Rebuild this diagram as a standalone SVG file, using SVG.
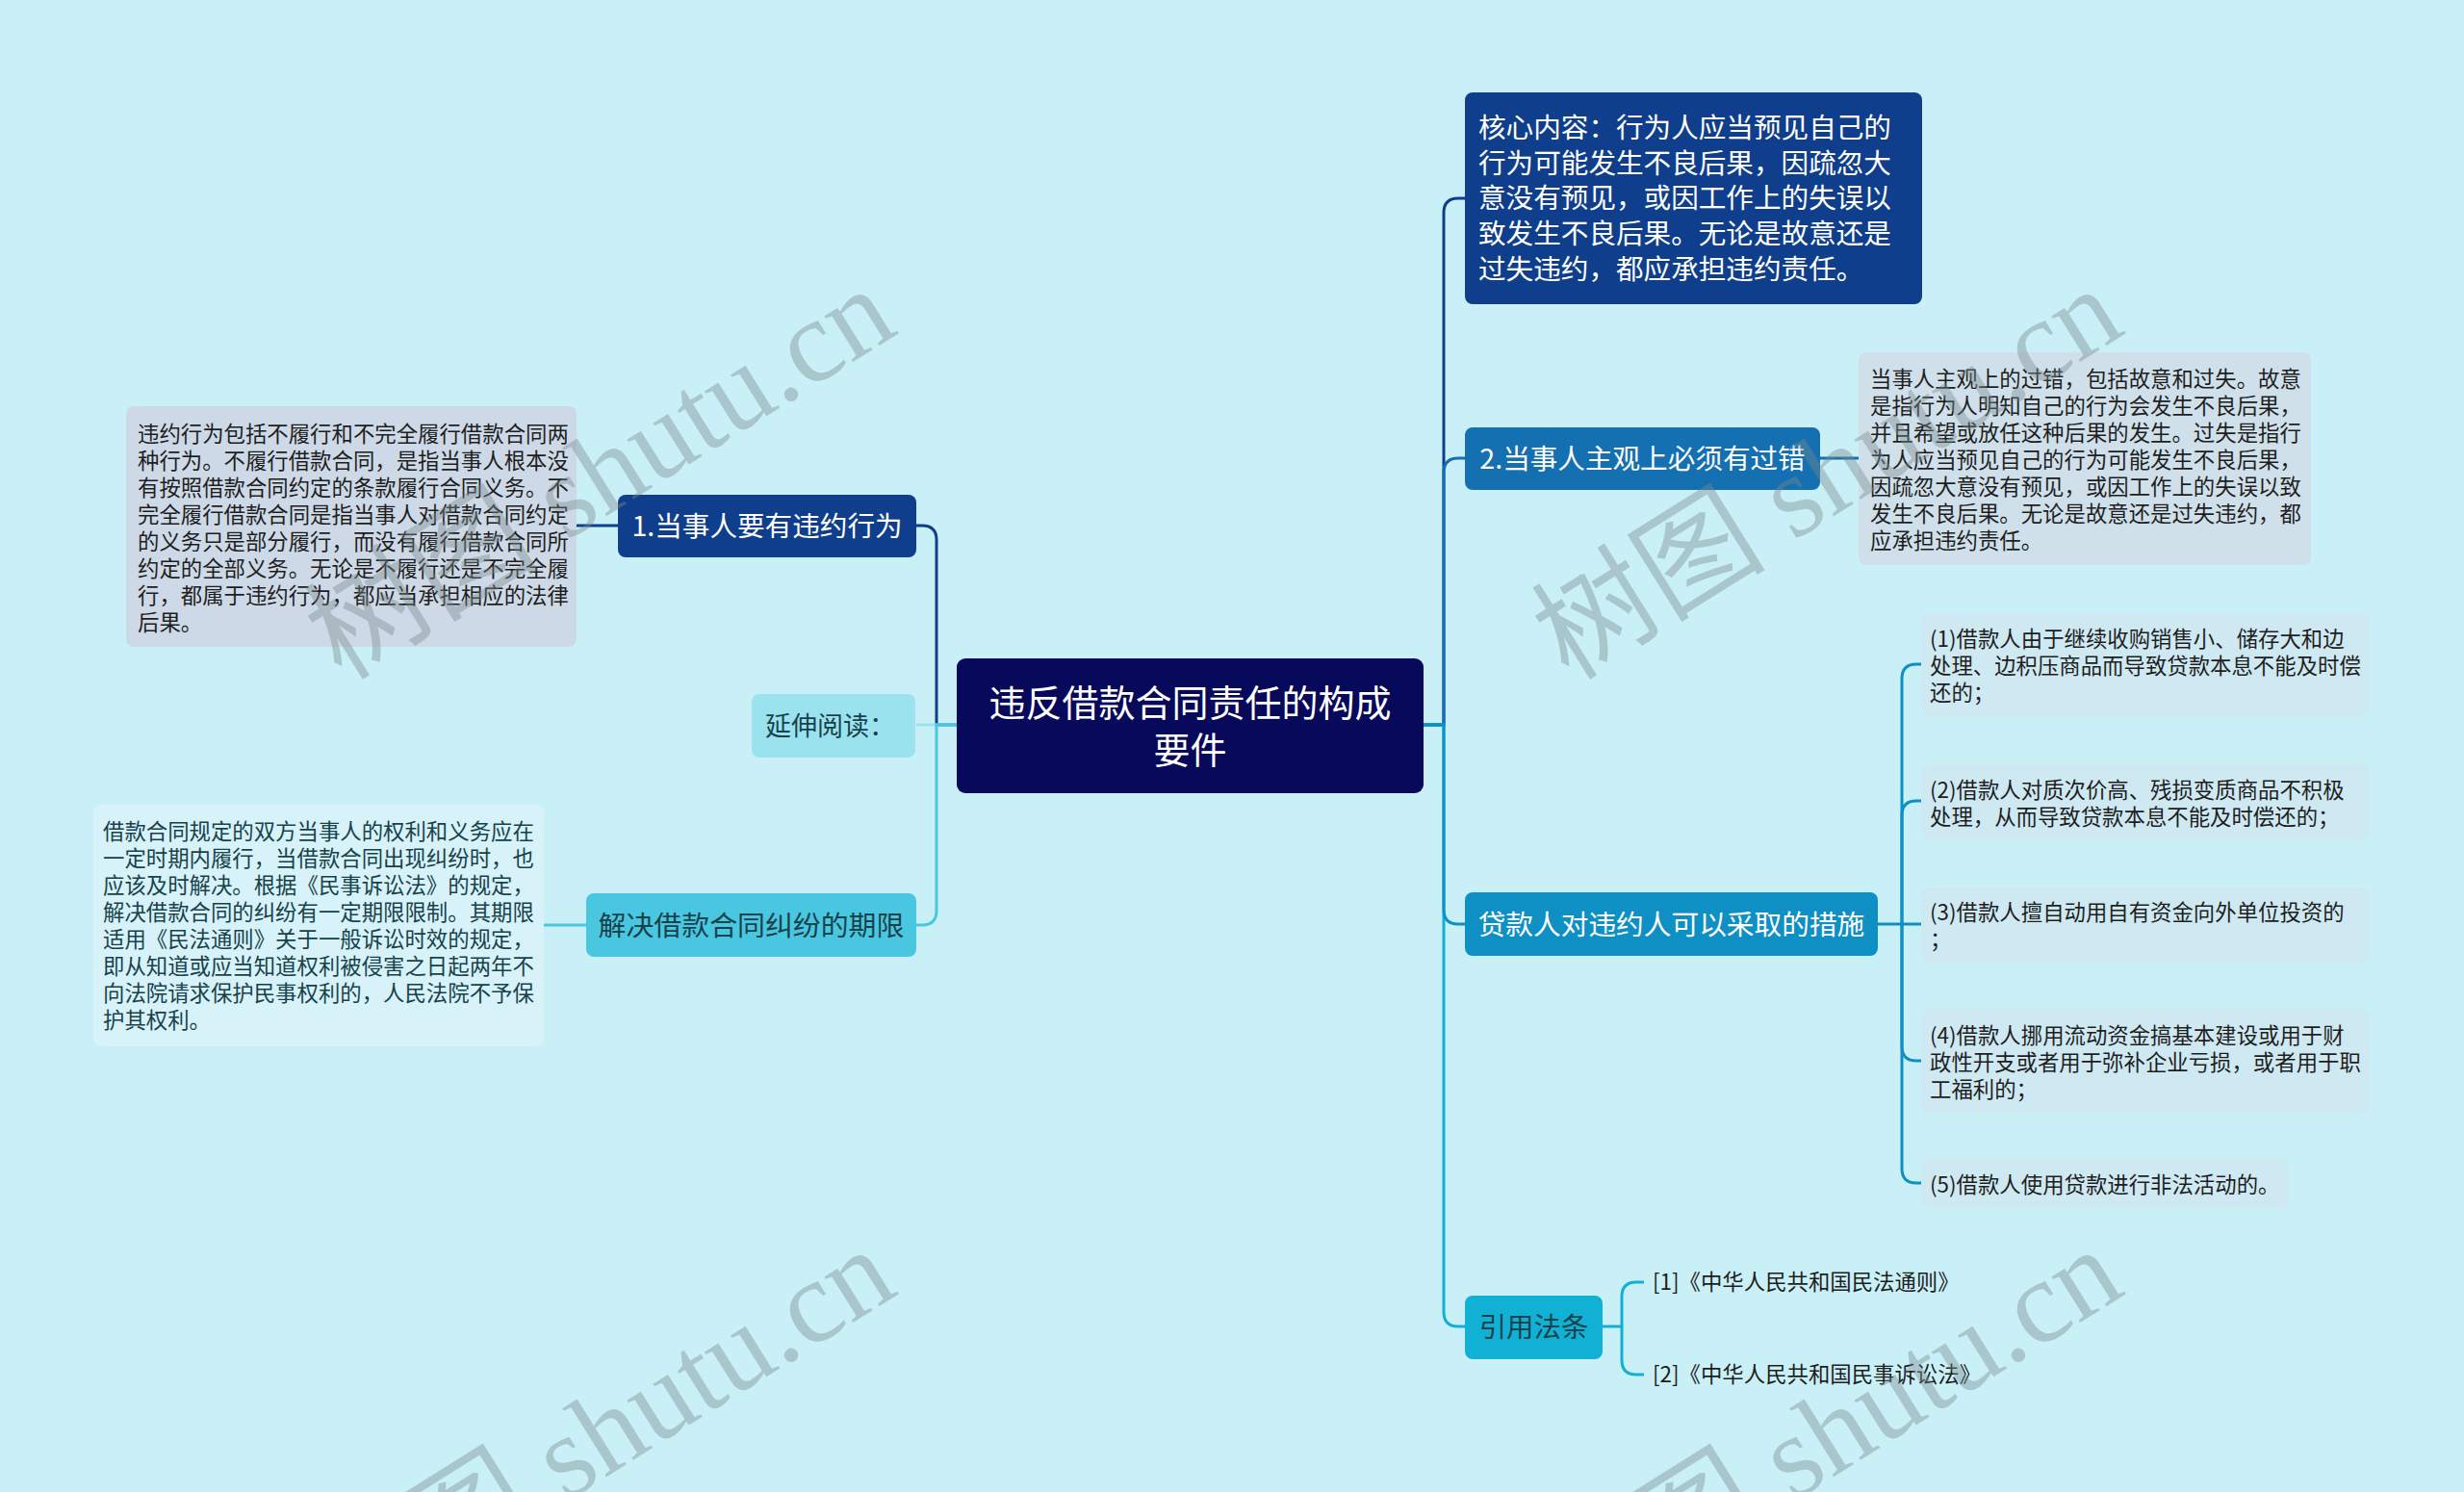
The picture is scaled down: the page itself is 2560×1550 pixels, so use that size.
<svg xmlns="http://www.w3.org/2000/svg" width="2560" height="1550" viewBox="0 0 2560 1550">
<style>
text{font-family:"Noto Sans CJK SC","Noto Sans",sans-serif;}
.w{fill:#ffffff}
.d{fill:#1e1e1e}
.t{fill:#16424c}
.m{font-size:28.6px}
.s{font-size:22.4px}
.c{stroke-width:3;fill:none}
.wm{font-family:"Liberation Serif","Noto Sans CJK SC",serif;font-size:122px;fill:#7a8a8e;opacity:0.4}
</style>
<rect x="0" y="0" width="2560" height="1550" fill="#c9f0f7"/>
<g id="connectors">
<path class="c" stroke="#0f3f8c" d="M994,753 H973 V561 Q973,546 958,546 H952"/>
<path class="c" stroke="#0f3f8c" d="M642,546 H599"/>
<path class="c" stroke="#9be2ef" d="M994,753 H952"/>
<path class="c" stroke="#4ac7e0" d="M994,753 H973 V946 Q973,961 958,961 H952"/>
<path class="c" stroke="#4ac7e0" d="M609,961 H565"/>
<path class="c" stroke="#0f3f8c" d="M1479,753 H1500 V221 Q1500,206 1515,206 H1522"/>
<path class="c" stroke="#1570b2" d="M1479,753 H1500 V491 Q1500,476 1515,476 H1522"/>
<path class="c" stroke="#1570b2" d="M1891,476 H1931"/>
<path class="c" stroke="#10b1d4" d="M1479,753 H1500 V1363 Q1500,1378 1515,1378 H1522"/>
<path class="c" stroke="#0f90c4" d="M1479,753 H1500 V945 Q1500,960 1515,960 H1522"/>
<path class="c" stroke="#0f90c4" d="M1951,960 H1976 V705 Q1976,690 1991,690 H1996"/>
<path class="c" stroke="#0f90c4" d="M1976,960 V847 Q1976,832 1991,832 H1996"/>
<path class="c" stroke="#0f90c4" d="M1976,960 H1996"/>
<path class="c" stroke="#0f90c4" d="M1976,960 V1087 Q1976,1102 1991,1102 H1996"/>
<path class="c" stroke="#0f90c4" d="M1976,960 V1214 Q1976,1229 1991,1229 H1996"/>
<path class="c" stroke="#10b1d4" d="M1665,1378 H1685 V1347 Q1685,1332 1700,1332 H1708"/>
<path class="c" stroke="#10b1d4" d="M1685,1378 V1413 Q1685,1428 1700,1428 H1708"/>
</g>
<g id="root">
<rect x="994" y="684" width="485" height="140" rx="9" fill="#07095a"/>
<text class="w" x="1236.5" y="744" font-size="38" text-anchor="middle">违反借款合同责任的构成</text>
<text class="w" x="1236.5" y="793" font-size="38" text-anchor="middle">要件</text>
</g>
<g id="n1">
<rect x="642" y="514" width="310" height="65" rx="8" fill="#0f3f8c"/>
<text class="w m" x="797" y="557" text-anchor="middle">1.当事人要有违约行为</text>
</g>
<g id="n1d">
<rect x="131" y="422" width="468" height="250" rx="8" fill="#cdd9e7"/>
<text class="d s" x="143">
<tspan x="143" y="458.5">违约行为包括不履行和不完全履行借款合同两</tspan>
<tspan x="143" y="486.6">种行为。不履行借款合同，是指当事人根本没</tspan>
<tspan x="143" y="514.7">有按照借款合同约定的条款履行合同义务。不</tspan>
<tspan x="143" y="542.8">完全履行借款合同是指当事人对借款合同约定</tspan>
<tspan x="143" y="570.9">的义务只是部分履行，而没有履行借款合同所</tspan>
<tspan x="143" y="599">约定的全部义务。无论是不履行还是不完全履</tspan>
<tspan x="143" y="627.1">行，都属于违约行为，都应当承担相应的法律</tspan>
<tspan x="143" y="655.2">后果。</tspan>
</text>
</g>
<g id="n2">
<rect x="781" y="721" width="170" height="66" rx="8" fill="#9be2ef"/>
<text class="t" x="795" y="764" font-size="27">延伸阅读：</text>
</g>
<g id="n3">
<rect x="609" y="928" width="343" height="66" rx="8" fill="#4ac7e0"/>
<text class="t" x="780.5" y="972" font-size="28.9" text-anchor="middle">解决借款合同纠纷的期限</text>
</g>
<g id="n3d">
<rect x="97" y="836" width="468" height="251" rx="8" fill="#d7f2f8"/>
<text class="t s">
<tspan x="107" y="871.5">借款合同规定的双方当事人的权利和义务应在</tspan>
<tspan x="107" y="899.6">一定时期内履行，当借款合同出现纠纷时，也</tspan>
<tspan x="107" y="927.7">应该及时解决。根据《民事诉讼法》的规定，</tspan>
<tspan x="107" y="955.8">解决借款合同的纠纷有一定期限限制。其期限</tspan>
<tspan x="107" y="983.9">适用《民法通则》关于一般诉讼时效的规定，</tspan>
<tspan x="107" y="1012">即从知道或应当知道权利被侵害之日起两年不</tspan>
<tspan x="107" y="1040.1">向法院请求保护民事权利的，人民法院不予保</tspan>
<tspan x="107" y="1068.2">护其权利。</tspan>
</text>
</g>
<g id="r1">
<rect x="1522" y="96" width="475" height="220" rx="8" fill="#0f3f8c"/>
<text class="w" font-size="28.6">
<tspan x="1536" y="143">核心内容：行为人应当预见自己的</tspan>
<tspan x="1536" y="179.7">行为可能发生不良后果，因疏忽大</tspan>
<tspan x="1536" y="216.4">意没有预见，或因工作上的失误以</tspan>
<tspan x="1536" y="253.1">致发生不良后果。无论是故意还是</tspan>
<tspan x="1536" y="289.8">过失违约，都应承担违约责任。</tspan>
</text>
</g>
<g id="r2">
<rect x="1522" y="444" width="369" height="65" rx="8" fill="#1570b2"/>
<text class="w m" x="1706.5" y="487" text-anchor="middle">2.当事人主观上必须有过错</text>
</g>
<g id="r2d">
<rect x="1931" y="366" width="470" height="221" rx="8" fill="#cfe0eb"/>
<text class="d s">
<tspan x="1943" y="401.5">当事人主观上的过错，包括故意和过失。故意</tspan>
<tspan x="1943" y="429.6">是指行为人明知自己的行为会发生不良后果，</tspan>
<tspan x="1943" y="457.7">并且希望或放任这种后果的发生。过失是指行</tspan>
<tspan x="1943" y="485.8">为人应当预见自己的行为可能发生不良后果，</tspan>
<tspan x="1943" y="513.9">因疏忽大意没有预见，或因工作上的失误以致</tspan>
<tspan x="1943" y="542">发生不良后果。无论是故意还是过失违约，都</tspan>
<tspan x="1943" y="570.1">应承担违约责任。</tspan>
</text>
</g>
<g id="r3">
<rect x="1522" y="927" width="429" height="66" rx="8" fill="#0f90c4"/>
<text class="w" x="1736.5" y="971" font-size="28.7" text-anchor="middle">贷款人对违约人可以采取的措施</text>
</g>
<g id="r3c1">
<rect x="1996" y="637" width="466" height="107" rx="8" fill="#cfe9f2"/>
<text class="d s">
<tspan x="2005" y="671.5">(1)借款人由于继续收购销售小、储存大和边</tspan>
<tspan x="2005" y="699.6">处理、边积压商品而导致贷款本息不能及时偿</tspan>
<tspan x="2005" y="727.7">还的；</tspan>
</text>
</g>
<g id="r3c2">
<rect x="1996" y="793" width="466" height="79" rx="8" fill="#cfe9f2"/>
<text class="d s">
<tspan x="2005" y="828.5">(2)借款人对质次价高、残损变质商品不积极</tspan>
<tspan x="2005" y="856.6">处理，从而导致贷款本息不能及时偿还的；</tspan>
</text>
</g>
<g id="r3c3">
<rect x="1996" y="922" width="466" height="78" rx="8" fill="#cfe9f2"/>
<text class="d s">
<tspan x="2005" y="955.5">(3)借款人擅自动用自有资金向外单位投资的</tspan>
<tspan x="2005" y="983.6">；</tspan>
</text>
</g>
<g id="r3c4">
<rect x="1996" y="1048" width="466" height="109" rx="8" fill="#cfe9f2"/>
<text class="d s">
<tspan x="2005" y="1083.5">(4)借款人挪用流动资金搞基本建设或用于财</tspan>
<tspan x="2005" y="1111.6">政性开支或者用于弥补企业亏损，或者用于职</tspan>
<tspan x="2005" y="1139.7">工福利的；</tspan>
</text>
</g>
<g id="r3c5">
<rect x="1996" y="1204" width="382" height="51" rx="8" fill="#cfe9f2"/>
<text class="d s" x="2005" y="1239">(5)借款人使用贷款进行非法活动的。</text>
</g>
<g id="r4">
<rect x="1522" y="1346" width="143" height="66" rx="8" fill="#10b1d4"/>
<text class="t" x="1593.5" y="1389" font-size="28.4" text-anchor="middle">引用法条</text>
</g>
<g id="r4c1">
<text class="d s" x="1717" y="1339.5">[1]《中华人民共和国民法通则》</text>
</g>
<g id="r4c2">
<text class="d s" x="1717" y="1435.5">[2]《中华人民共和国民事诉讼法》</text>
</g>
<g id="watermarks">
<text class="wm" transform="translate(355,708) rotate(-32)">树图 shutu.cn</text>
<text class="wm" transform="translate(1630,708) rotate(-32)">树图 shutu.cn</text>
<text class="wm" transform="translate(355,1706) rotate(-32)">树图 shutu.cn</text>
<text class="wm" transform="translate(1630,1706) rotate(-32)">树图 shutu.cn</text>
</g>
</svg>
